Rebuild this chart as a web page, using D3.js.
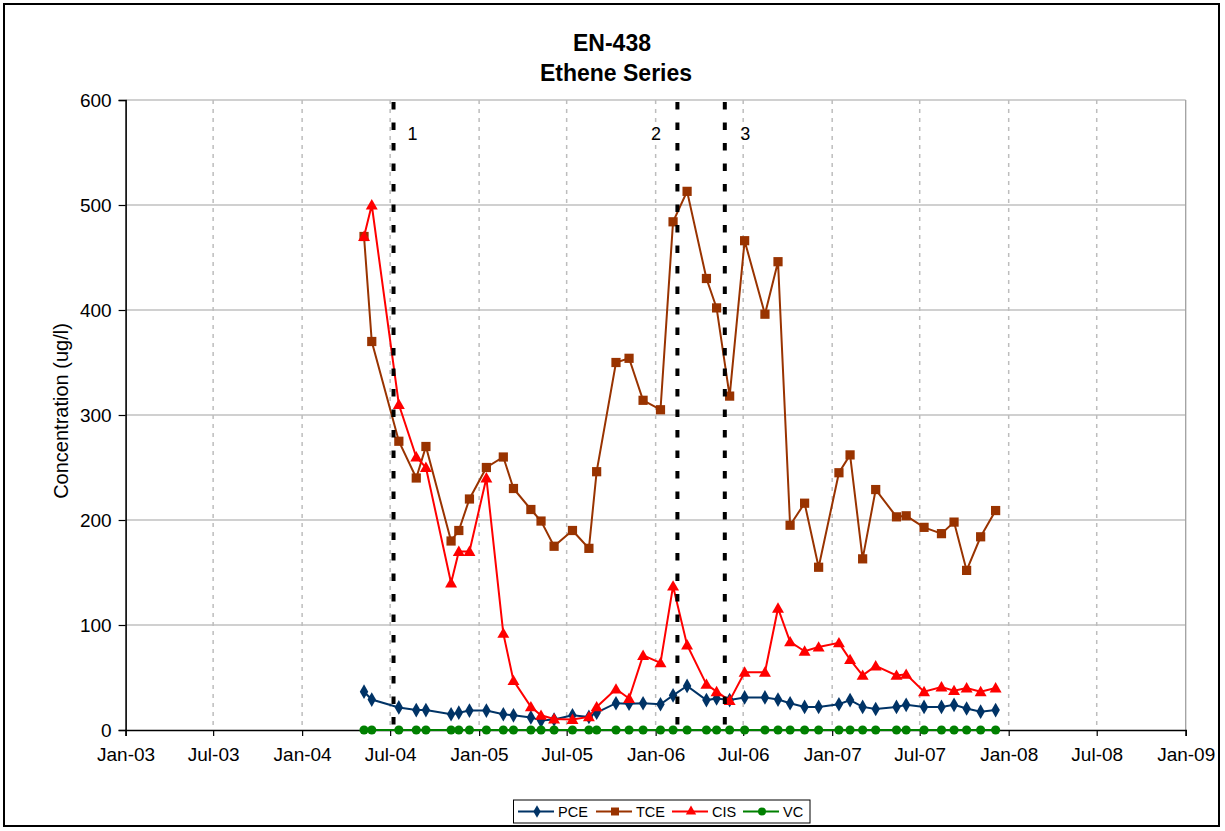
<!DOCTYPE html>
<html>
<head>
<meta charset="utf-8">
<script src="https://cdn.jsdelivr.net/npm/d3@7/dist/d3.min.js"></script>
<style>
  html, body { margin: 0; padding: 0; background: #fff; }
  svg { display: block; font-family: "Liberation Sans", Arial, sans-serif; }
</style>
</head>
<body>
<svg id="chart" width="1225" height="831"></svg>
<script>
// Sampling dates for well EN-438
const sampleDates = ["2004-05-08","2004-05-24","2004-07-19","2004-08-24","2004-09-13","2004-11-04","2004-11-20","2004-12-12",
  "2005-01-16","2005-02-20","2005-03-13","2005-04-18","2005-05-09","2005-06-05","2005-07-13","2005-08-16","2005-09-01",
  "2005-10-11","2005-11-07","2005-12-06","2006-01-11","2006-02-06","2006-03-07","2006-04-16","2006-05-07","2006-06-03",
  "2006-07-04","2006-08-15","2006-09-11","2006-10-06","2006-11-05","2006-12-04","2007-01-15","2007-02-07","2007-03-05",
  "2007-04-01","2007-05-14","2007-06-03","2007-07-10","2007-08-15","2007-09-10","2007-10-06","2007-11-04","2007-12-05"];

// Concentrations (ug/l)
const pce = [36.5,29,21.5,19,19,15,16.5,18.5,18.5,15,14,12,9,10,14,12.5,16.5,25.5,25,25.5,24.5,33,42,28.5,30,28.5,31,31,29,25.5,22,22,24.5,28.5,22,20,22,24,22,22,24,20.5,17.5,19];
const tce = [470,370,275,240,270,180,190,220,250,260,230,210,199,175,190,173,246,350,354,314,305,484,513,430,402,318,466,396,446,195,216,155,245,262,163,229,203,204,193,187,198,152,184,209];
const cis = [470,500,310,260,250,140,170,170,240,92,47,22,14,10.5,10,12.5,22,39,30,71,64,137,81,43.5,36.5,28,55,55,116,84,75,79,83,67,52,61,52,53,36.5,41,37.5,40,36.5,40];
const vc  = [0,0,0,0,0,0,0,0,0,0,0,0,0,0,0,0,0,0,0,0,0,0,0,0,0,0,0,0,0,0,0,0,0,0,0,0,0,0,0,0,0,0,0,0];

const seriesNames = ["PCE", "TCE", "CIS", "VC"];

// Treatment events
const eventDates = ["2004-07-08", "2006-02-15", "2006-05-24"];
const eventLabels = ["1", "2", "3"];

// Axis ticks
const yTicks = [0, 100, 200, 300, 400, 500, 600];
const xTickDates = ["2003-01-01","2003-07-01","2004-01-01","2004-07-01","2005-01-01","2005-07-01","2006-01-01",
  "2006-07-01","2007-01-01","2007-07-01","2008-01-01","2008-07-01","2009-01-01"];

const titleLines = ["EN-438", "Ethene Series"];
const yTitle = "Concentration (ug/l)";

// ---- drawing ----
const parse = d3.timeParse("%Y-%m-%d");
const fmt = d3.timeFormat("%b-%y");
const svg = d3.select("#chart");

const plot = { left: 125.6, right: 1185.7, top: 100, bottom: 730 };

const x = d3.scaleTime()
  .domain([parse("2003-01-01"), parse("2009-01-01")])
  .range([plot.left, plot.right]);
const y = d3.scaleLinear().domain([0, 600]).range([plot.bottom, plot.top]);

// outer frame
svg.append("rect").attr("x", 4).attr("y", 4).attr("width", 1215).attr("height", 822)
  .attr("fill", "#fff").attr("stroke", "#000").attr("stroke-width", 2);

// title
svg.append("g").selectAll("text").data(titleLines).join("text")
  .attr("x", (d, i) => i === 0 ? 612 : 616).attr("y", (d, i) => 50.7 + i * 30)
  .attr("text-anchor", "middle").attr("font-weight", "bold").attr("font-size", 23)
  .attr("fill", "#000").text(d => d);

// horizontal gridlines
svg.append("g").selectAll("line").data(yTicks.filter(d => d > 0)).join("line")
  .attr("x1", plot.left).attr("x2", plot.right)
  .attr("y1", d => y(d)).attr("y2", d => y(d))
  .attr("stroke", "#c0c0c0").attr("stroke-width", 1.3);

// vertical dotted gridlines
const xTicks = xTickDates.map(parse);
svg.append("g").selectAll("line").data(xTicks.slice(1, -1)).join("line")
  .attr("x1", d => x(d)).attr("x2", d => x(d))
  .attr("y1", plot.top).attr("y2", plot.bottom)
  .attr("stroke", "#bdbdbd").attr("stroke-width", 1.5).attr("stroke-dasharray", "4,5");

// right plot edge
svg.append("line").attr("x1", plot.right).attr("x2", plot.right)
  .attr("y1", plot.top).attr("y2", plot.bottom)
  .attr("stroke", "#a0a0a0").attr("stroke-width", 1.3);

// axes
const yAxis = d3.axisLeft(y).tickValues(yTicks).tickSize(7).tickPadding(7);
const gy = svg.append("g").attr("transform", `translate(${plot.left},0)`).call(yAxis);
gy.select(".domain").attr("stroke", "#000").attr("stroke-width", 1.6);
gy.selectAll(".tick line").attr("stroke", "#000").attr("stroke-width", 1.2);
gy.selectAll(".tick text").attr("font-size", 19).attr("font-family", "Liberation Sans, Arial, sans-serif").attr("fill", "#000");

const xAxis = d3.axisBottom(x).tickValues(xTicks).tickFormat(fmt).tickSize(6).tickPadding(12);
const gx = svg.append("g").attr("transform", `translate(0,${plot.bottom})`).call(xAxis);
gx.select(".domain").attr("stroke", "#000").attr("stroke-width", 1.6);
gx.selectAll(".tick line").attr("stroke", "#000").attr("stroke-width", 1.2);
gx.selectAll(".tick text").attr("font-size", 19).attr("font-family", "Liberation Sans, Arial, sans-serif").attr("fill", "#000");

// y-axis title
svg.append("text").attr("transform", "translate(67.5,411) rotate(-90)")
  .attr("text-anchor", "middle").attr("font-size", 20).attr("fill", "#000").text(yTitle);

// series
const dates = sampleDates.map(parse);
const colors = { PCE: "#003366", TCE: "#993300", CIS: "#ff0000", VC: "#008000" };
const shapes = { PCE: d3.symbolDiamond, TCE: d3.symbolSquare, CIS: d3.symbolTriangle, VC: d3.symbolCircle };
const sizes = { PCE: 62, TCE: 85, CIS: 62, VC: 66 };
const valuesBy = { PCE: pce, TCE: tce, CIS: cis, VC: vc };

const line = d3.line().x(d => x(d[0])).y(d => y(d[1]));

seriesNames.forEach(name => {
  const pts = dates.map((d, i) => [d, valuesBy[name][i]]);
  const g = svg.append("g");
  g.append("path").datum(pts).attr("d", line)
    .attr("fill", "none").attr("stroke", colors[name]).attr("stroke-width", 2);
  const sym = d3.symbol().type(shapes[name]).size(sizes[name]);
  g.selectAll("path.m").data(pts).join("path").attr("class", "m")
    .attr("transform", d => `translate(${x(d[0])},${y(d[1]) + (name === "CIS" ? 1 : 0)})`)
    .attr("d", sym).attr("fill", colors[name]);
});

// event markers
const evG = svg.append("g");
evG.selectAll("line").data(eventDates.map(parse)).join("line")
  .attr("x1", d => x(d)).attr("x2", d => x(d))
  .attr("y1", plot.top + 2).attr("y2", plot.bottom)
  .attr("stroke", "#000").attr("stroke-width", 4).attr("stroke-dasharray", "7.5,13");
const labelOffset = [19, -21.5, 20.5];
evG.selectAll("text").data(eventDates.map(parse)).join("text")
  .attr("x", (d, i) => x(d) + labelOffset[i]).attr("y", 140)
  .attr("text-anchor", "middle").attr("font-size", 18).attr("fill", "#000")
  .text((d, i) => eventLabels[i]);

// legend
const lg = svg.append("g");
lg.append("rect").attr("x", 513.5).attr("y", 800).attr("width", 296.5).attr("height", 23)
  .attr("fill", "#fff").attr("stroke", "#000").attr("stroke-width", 1);
const legendX = [518, 596, 672, 743];
seriesNames.forEach((name, i) => {
  const lx = legendX[i];
  lg.append("line").attr("x1", lx).attr("x2", lx + 36).attr("y1", 811.5).attr("y2", 811.5)
    .attr("stroke", colors[name]).attr("stroke-width", 2);
  lg.append("path").attr("transform", `translate(${lx + 19},811.5)`)
    .attr("d", d3.symbol().type(shapes[name]).size(sizes[name] * 0.75)).attr("fill", colors[name]);
  lg.append("text").attr("x", lx + 40).attr("y", 816.5).attr("font-size", 14.5).attr("fill", "#000").text(name);
});
</script>
</body>
</html>
